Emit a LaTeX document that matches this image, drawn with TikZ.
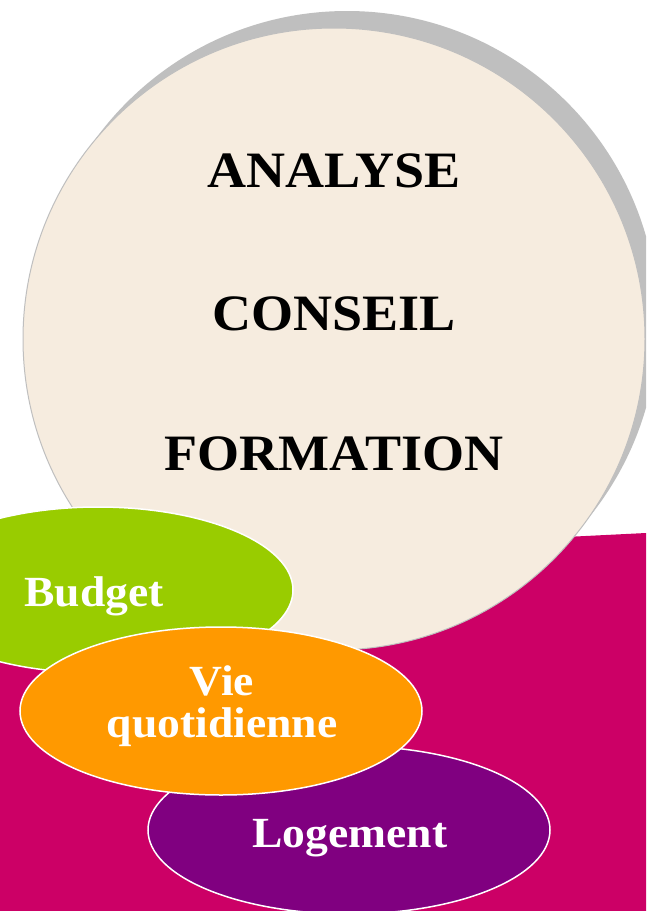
\documentclass[tikz,border=0pt]{standalone}
\usepackage{fontspec}
\setmainfont{Liberation Serif}
\newfontfamily\widefont[FakeStretch=1.06]{Liberation Serif}
\usetikzlibrary{shapes.geometric}
\definecolor{magentabg}{HTML}{CC0066}
\definecolor{beige}{HTML}{F6ECDF}
\definecolor{shadowgray}{HTML}{BFBFBF}
\definecolor{greenell}{HTML}{99CC00}
\definecolor{orangeell}{HTML}{FF9900}
\definecolor{purpleell}{HTML}{800080}
\tikzset{
  bubble/.style={ellipse, draw=white, line width=1.5pt, minimum width=402pt, minimum height=168pt, inner sep=0pt},
  bigtxt/.style={font=\widefont\fontsize{51}{51}\selectfont\bfseries, text=black, anchor=base},
  smalltxt/.style={font=\widefont\fontsize{43}{43}\selectfont\bfseries, text=white, anchor=base}
}
\begin{document}
\begin{tikzpicture}[x=1pt,y=-1pt]
\useasboundingbox (0,0) rectangle (646,911);
\clip (0,0) rectangle (646,911);
\fill[white] (0,0) rectangle (646,911);
% magenta background
\fill[magentabg] (0,565) -- (646,533) -- (646,911) -- (0,911) -- cycle;
% shadow and main circle
\node[circle, fill=shadowgray, minimum size=622pt, inner sep=0pt] (shadow) at (347,322) {};
\node[circle, fill=beige, draw=shadowgray, line width=1pt, minimum size=622pt, inner sep=0pt] (main) at (334,339) {};
\node[bigtxt] (t1) at (334,187) {ANALYSE};
\node[bigtxt] (t2) at (334,330) {CONSEIL};
\node[bigtxt] (t3) at (334,470) {FORMATION};
% ellipses
\node[bubble, fill=greenell, minimum width=390pt, minimum height=166pt] (budget) at (98,590) {};
\node[bubble, fill=purpleell] (logement) at (349,830) {};
\node[bubble, fill=orangeell] (vie) at (221,711) {};
\node[smalltxt] (lb) at (94,606) {Budget};
\node[smalltxt] (lv1) at (222,695) {Vie};
\node[smalltxt] (lv2) at (222,737) {quotidienne};
\node[smalltxt] (ll) at (350,847) {Logement};
\end{tikzpicture}
\end{document}
